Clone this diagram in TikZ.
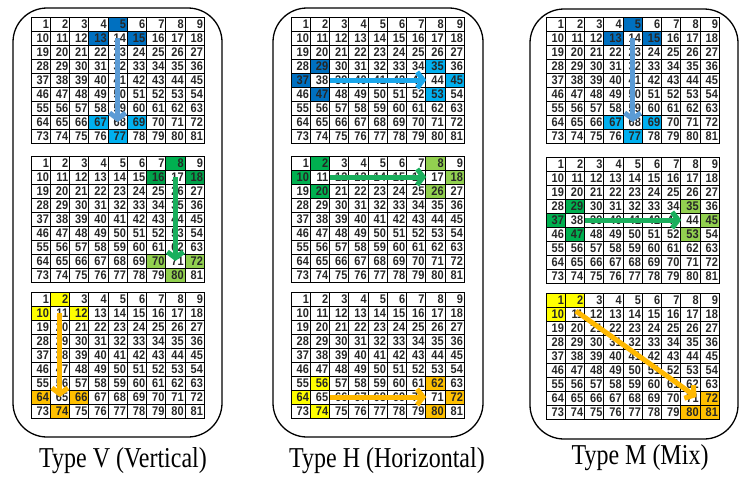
\documentclass[tikz,border=0pt]{standalone}
\usepackage{fontspec}
\setmainfont{Liberation Serif}
\newfontfamily\numfont{Liberation Sans}
\usetikzlibrary{arrows.meta,backgrounds,calc}
\definecolor{dblue}{HTML}{0070C0}
\definecolor{lblue}{HTML}{00B0F0}
\definecolor{ablue}{HTML}{5B9BD5}
\definecolor{hblue}{HTML}{1AA7EC}
\definecolor{mgreen}{HTML}{00B050}
\definecolor{lgreen}{HTML}{92D050}
\definecolor{agreen}{HTML}{1AAF5D}
\definecolor{yel}{HTML}{FFFF00}
\definecolor{org}{HTML}{FFC000}
\definecolor{aorg}{HTML}{FFB800}
\newcommand\mygrid[3]{%
  \foreach \r in {0,...,8}{%
    \foreach \c in {0,...,8}{%
      \pgfmathtruncatemacro\n{\r*9+\c+1}%
      \node[cell] (#1-\n) at ({#2+\c*19.25+9.625},{#3+\r*14+7}) {\scalebox{0.88}[1]{\n}};
    }%
  }%
}
\newcommand\hl[3]{%
  \begin{pgfonlayer}{background}
    \foreach \k in {#2}{\fill[#3] (#1-\k.north west) rectangle (#1-\k.south east);}
  \end{pgfonlayer}%
}
\tikzset{
  cell/.style={draw=black, line width=1pt, rectangle, minimum width=19.25pt,
    minimum height=14pt, inner sep=0pt, text width=16.5pt, align=right,
    font=\numfont\bfseries\fontsize{12.5}{12}\selectfont, text=black!85},
  panel/.style={draw=black, line width=1.3pt, rounded corners=34pt},
  arr/.style={line width=5pt, -{Straight Barb[length=6pt,width=16pt]}},
  caption/.style={font=\fontsize{24}{28}\selectfont, inner sep=0pt}
}
\begin{document}
\begin{tikzpicture}[x=1pt,y=-1pt]
\useasboundingbox (0,0) rectangle (749,480);
% panels
\draw[panel] (13,8) rectangle (222,437);
\draw[panel] (273,8) rectangle (483,437);
\draw[panel] (530,9) rectangle (738,439);
% grids
\mygrid{a1}{31}{17}
\mygrid{a2}{31}{156}
\mygrid{a3}{31}{292}
\mygrid{b1}{291}{17}
\mygrid{b2}{291}{156}
\mygrid{b3}{291}{292}
\mygrid{c1}{546}{17}
\mygrid{c2}{546}{157}
\mygrid{c3}{546}{293}
% highlights
\hl{a1}{5,13,15}{dblue}
\hl{a1}{67,69,77}{lblue}
\hl{a2}{8}{mgreen}
\hl{a2}{16,18}{mgreen!92!black}
\hl{a2}{70,72,80}{lgreen}
\hl{a3}{2,10,12}{yel}
\hl{a3}{64,66,74}{org}
\hl{b1}{29,37,47}{dblue}
\hl{b1}{35,45,53}{lblue}
\hl{b2}{2,10,20}{mgreen}
\hl{b2}{8,18,26}{lgreen}
\hl{b3}{56,64,74}{yel}
\hl{b3}{62,72,80}{org}
\hl{c1}{5,13,15}{dblue}
\hl{c1}{67,69,77}{lblue}
\hl{c2}{29,37,47}{mgreen}
\hl{c2}{35,45,53}{lgreen}
\hl{c3}{1,2,10}{yel}
\hl{c3}{72,80,81}{org}
% arrows
\draw[arr, ablue] (a1-14.center) -- (a1-68.center);
\draw[arr, agreen] (a2-17.center) -- (a2-71.center);
\draw[arr, aorg] (a3-11.center) -- (a3-65.center);
\draw[arr, hblue] (b1-38.east) -- (b1-43.east);
\draw[arr, agreen] (b2-11.east) -- (b2-16.east);
\draw[arr, aorg] (b3-65.east) -- (b3-70.east);
\draw[arr, ablue] (c1-14.center) -- (c1-68.center);
\draw[arr, agreen] (c2-38.east) -- (c2-43.east);
\draw[arr, aorg] ($(c3-11.center)+(1,-3)$) -- ($(c3-71.center)+(6,-1)$);
% captions
\node[caption] (capV) at (123,461) {\scalebox{1}[1.2]{Type V (Vertical)}};
\node[caption] (capH) at (387,461) {\scalebox{1}[1.2]{Type H (Horizontal)}};
\node[caption] (capM) at (640,458) {\scalebox{1}[1.2]{Type M (Mix)}};
\end{tikzpicture}
\end{document}
